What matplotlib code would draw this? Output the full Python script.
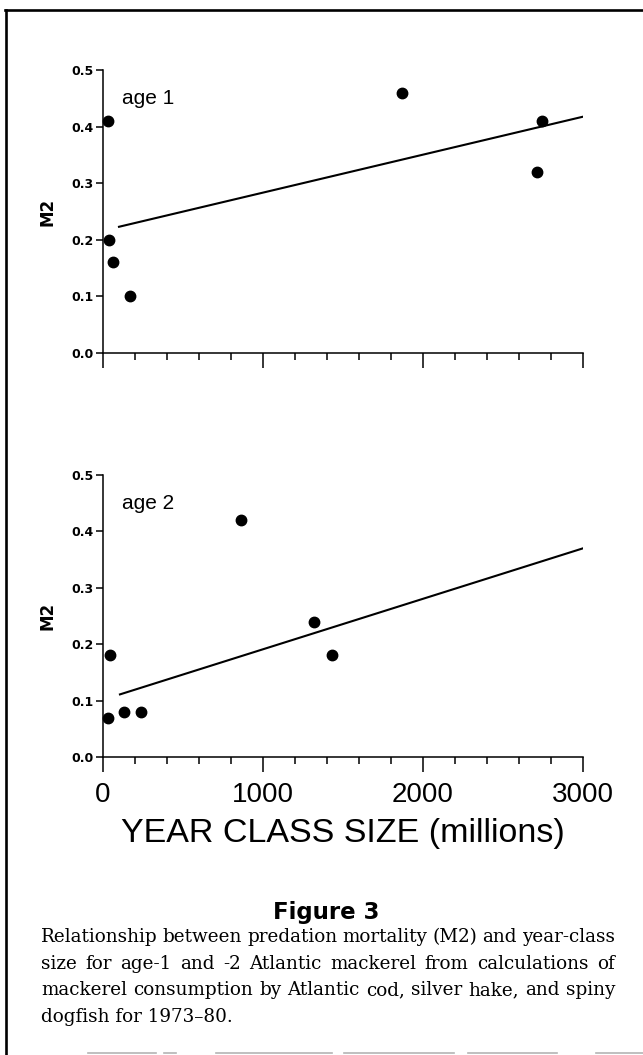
import matplotlib
matplotlib.use("Agg")
import matplotlib.pyplot as plt
from matplotlib.lines import Line2D
from matplotlib.ticker import MultipleLocator

# year-class size (millions) and predation mortality M2
age1_size = [33, 40, 65, 170, 1870, 2710, 2742]
age1_m2 = [0.41, 0.20, 0.16, 0.10, 0.46, 0.32, 0.41]
age1_fit_x = [100, 3000]
age1_fit_y = [0.223, 0.4175]

age2_size = [31, 44, 133, 237, 863, 1318, 1431]
age2_m2 = [0.07, 0.18, 0.08, 0.08, 0.42, 0.24, 0.18]
age2_fit_x = [106, 3000]
age2_fit_y = [0.111, 0.37]

x_ticks = [0, 1000, 2000, 3000]
y_ticks = [0.0, 0.1, 0.2, 0.3, 0.4, 0.5]

caption_lines = [
    "Relationship between predation mortality (M2) and year-class",
    "size for age-1 and -2 Atlantic mackerel from calculations of",
    "mackerel consumption by Atlantic cod, silver hake, and spiny",
    "dogfish for 1973\u201380.",
]

W, H = 643, 1055
fig = plt.figure(figsize=(W / 100, H / 100), dpi=100)


def px(x, y):
    # pixel position from the top-left corner -> figure fraction
    return x / W, 1 - y / H


def panel(top, bottom, sizes, m2, fit_x, fit_y, label):
    ax = fig.add_axes([103 / W, 1 - bottom / H, 480 / W, (bottom - top) / H])
    ax.plot(sizes, m2, "o", color="black", markersize=7.5, clip_on=False)
    ax.plot(fit_x, fit_y, "-", color="black", linewidth=1.5)
    ax.set_xlim(0, 3000)
    ax.set_ylim(0, 0.5)
    ax.spines["top"].set_visible(False)
    ax.spines["right"].set_visible(False)
    for s in ("left", "bottom"):
        ax.spines[s].set_linewidth(1.1)
    ax.xaxis.set_major_locator(MultipleLocator(1000))
    ax.xaxis.set_minor_locator(MultipleLocator(200))
    ax.set_xticks(x_ticks)
    ax.set_yticks(y_ticks)
    ax.set_yticklabels([f"{v:.1f}" for v in y_ticks],
                       fontsize=9, fontweight="bold")
    ax.tick_params(axis="x", which="major", length=11, width=1.1, direction="out")
    ax.tick_params(axis="x", which="minor", length=5, width=1.1, direction="out")
    ax.tick_params(axis="y", length=5, width=1.1, pad=1.5)
    ax.set_ylabel("M2", fontsize=12, fontweight="bold", labelpad=11)
    ax.text(0.04, 0.90, label, transform=ax.transAxes, fontsize=15,
            family=["Liberation Sans Narrow", "Liberation Sans", "DejaVu Sans"],
            va="center", ha="left")
    return ax


ax1 = panel(70, 353, age1_size, age1_m2, age1_fit_x, age1_fit_y, "age 1")
ax1.set_xticklabels([])

ax2 = panel(475, 757, age2_size, age2_m2, age2_fit_x, age2_fit_y, "age 2")
ax2.set_xticklabels([str(v) for v in x_ticks], fontsize=20,
                    family=["Liberation Sans", "DejaVu Sans"])
ax2.tick_params(axis="x", which="major", pad=7)
ax2.set_xlabel("YEAR CLASS SIZE (millions)", fontsize=24.5,
               family=["Liberation Sans", "DejaVu Sans"], labelpad=7)

# frame around the figure block, plus the faint rule at the bottom edge
fig.add_artist(Line2D([5 / W, 1], [1 - 10 / H] * 2, color="black", linewidth=1.9))
fig.add_artist(Line2D([6 / W] * 2, [1 - 10 / H, 0], color="black", linewidth=1.9))
for a, b in [(88, 156), (164, 176), (216, 332), (344, 454), (468, 557), (596, 643)]:
    fig.add_artist(Line2D([a / W, b / W], [1 - 1053 / H] * 2,
                          color="#b4b4b4", linewidth=1.2))

fig.text(*px(326, 912), "Figure 3", fontsize=16.5, fontweight="bold",
         ha="center", va="center")

# justified caption, word by word
renderer = fig.canvas.get_renderer()
cap_left, cap_right = 41, 615
cap_font = dict(fontsize=13.2, family=["DejaVu Serif"], va="baseline", ha="left")
for i, line in enumerate(caption_lines):
    y = 942 + i * 26.7
    words = line.split(" ")
    if i == len(caption_lines) - 1:
        fig.text(*px(cap_left, y), line, **cap_font)
        continue
    items = [fig.text(0, 0, w, **cap_font) for w in words]
    widths = [t.get_window_extent(renderer).width for t in items]
    gap = (cap_right - cap_left - sum(widths)) / (len(words) - 1)
    x = cap_left
    for t, w in zip(items, widths):
        t.set_position(px(x, y))
        x += w + gap

fig.savefig("out.png", dpi=100)
